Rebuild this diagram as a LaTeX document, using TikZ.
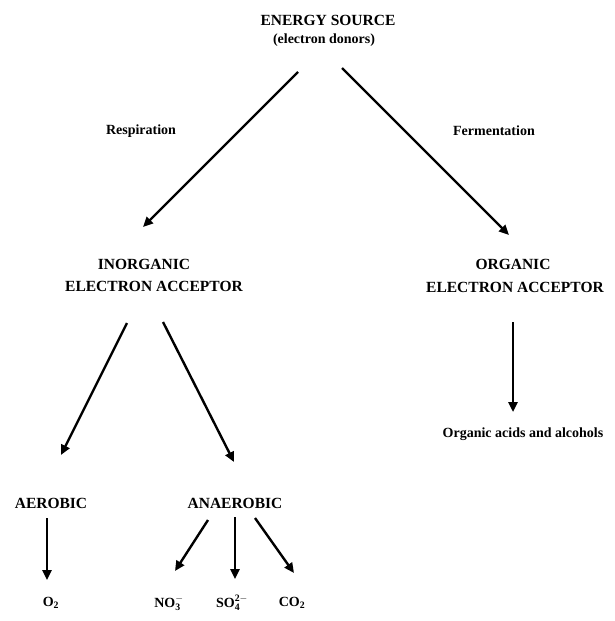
\documentclass[tikz,border=0pt]{standalone}
\usepackage{fontspec}
\setmainfont{Liberation Serif}
\usetikzlibrary{arrows.meta}
\begin{document}
\begin{tikzpicture}[x=1pt,y=-1pt,
  big/.style={font=\bfseries\fontsize{15.5}{17}\selectfont, inner sep=0pt, align=center},
  small/.style={font=\bfseries\fontsize{14}{16}\selectfont, inner sep=0pt},
  chem/.style={font=\bfseries\fontsize{14}{16}\selectfont, inner sep=0pt},
  arr/.style={line width=2.4pt, -{Triangle[length=10pt,width=9pt]}}]
\useasboundingbox (0,0) rectangle (614,621);
% texts
\node[big] (es) at (328,20) {ENERGY SOURCE};
\node[small] (don) at (324,40) {(electron donors)};
\node[small] (resp) at (141,131) {Respiration};
\node[small] (ferm) at (494,131) {Fermentation};
\node[big] (inorg1) at (144,264) {INORGANIC};
\node[big] (inorg2) at (154,286) {ELECTRON ACCEPTOR};
\node[big] (org1) at (513,264) {ORGANIC};
\node[big] (org2) at (515,287) {ELECTRON ACCEPTOR};
\node[small] (acids) at (523,434) {Organic acids and alcohols};
\node[big] (aer) at (51,503) {AEROBIC};
\node[big] (anaer) at (235,503) {ANAEROBIC};
\node[chem] (o2) at (51,603) {O$_{\mathbf 2}$};
\node[chem] (no3) at (169,603) {NO$_{\mathbf 3}^{\mathbf -}$};
\node[chem] (so4) at (232,603) {SO$_{\mathbf 4}^{\mathbf{2-}}$};
\node[chem] (co2) at (292,603) {CO$_{\mathbf 2}$};
% connector ends
\coordinate (e1s) at (298,72);  \coordinate (e1e) at (143,227);
\coordinate (e2s) at (342,68);  \coordinate (e2e) at (509,235);
\coordinate (i1s) at (127,323); \coordinate (i1e) at (61,455);
\coordinate (i2s) at (163,322); \coordinate (i2e) at (234,462);
\coordinate (o1s) at (513,322); \coordinate (o1e) at (513,412);
\coordinate (a1s) at (47,518);  \coordinate (a1e) at (47,580);
\coordinate (n1s) at (208,520); \coordinate (n1e) at (175,571);
\coordinate (n2s) at (235,517); \coordinate (n2e) at (235,579);
\coordinate (n3s) at (255,518); \coordinate (n3e) at (294,573);
\draw[arr] (e1s) -- (e1e);
\draw[arr] (e2s) -- (e2e);
\draw[arr] (i1s) -- (i1e);
\draw[arr] (i2s) -- (i2e);
\draw[arr] (o1s) -- (o1e);
\draw[arr] (a1s) -- (a1e);
\draw[arr] (n1s) -- (n1e);
\draw[arr] (n2s) -- (n2e);
\draw[arr] (n3s) -- (n3e);
\end{tikzpicture}
\end{document}
